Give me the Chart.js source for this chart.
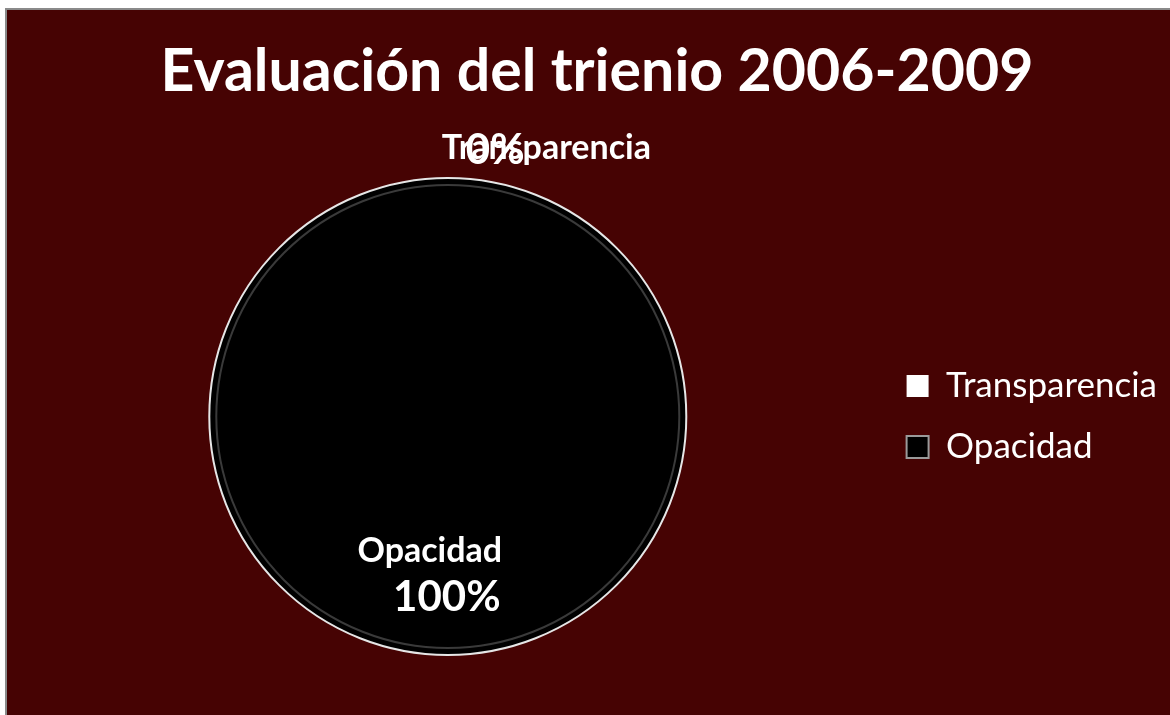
<!DOCTYPE html>
<html>
<head>
<meta charset="utf-8">
<script src="https://cdn.jsdelivr.net/npm/chart.js@4.4.1/dist/chart.umd.min.js"></script>
<style>
    html, body { margin: 0; padding: 0; background: #ffffff; }
    #box {
        position: absolute; left: 5px; top: 8px; width: 1165px; height: 707px;
        background: #460303; border-left: 2px solid #8a8a8a; border-top: 2px solid #8a8a8a;
        box-sizing: border-box;
    }
    #titulo {
        position: absolute; left: 0; top: 24px; width: 1180px; text-align: center;
        font-family: Lato, "Open Sans", sans-serif; font-weight: bold; font-size: 59px;
        color: #ffffff; margin: 0; line-height: 70px;
    }
    #wrap { position: absolute; left: 0; top: 0; width: 1163px; height: 705px; }
</style>
</head>
<body>
<div id="box">
    <div id="wrap"><canvas id="myChartTrienio"></canvas></div>
    <h1 id="titulo">Evaluación del trienio 2006-2009</h1>
</div>
<script>
var categorias = ['Transparencia', 'Opacidad'];
var valores = [0, 100];
var colores = ['#ffffff', '#000000'];

// etiquetas de datos (nombre + porcentaje)
var etiquetasPlugin = {
    id: 'etiquetas',
    afterDatasetsDraw: function (chart) {
        var ctx = chart.ctx;
        var meta = chart.getDatasetMeta(0);
        var data = chart.data.datasets[0].data;
        var total = data.reduce(function (a, b) { return a + b; }, 0);
        ctx.save();
        // anillo del borde
        var a0 = meta.data[0];
        ctx.beginPath();
        ctx.arc(a0.x, a0.y, a0.outerRadius - 7, 0, Math.PI * 2);
        ctx.strokeStyle = '#3a3a3a';
        ctx.lineWidth = 2;
        ctx.stroke();
        ctx.beginPath();
        ctx.arc(a0.x, a0.y, a0.outerRadius, 0, Math.PI * 2);
        ctx.strokeStyle = '#e6e6e6';
        ctx.lineWidth = 2;
        ctx.stroke();

        ctx.fillStyle = '#ffffff';
        ctx.textBaseline = 'middle';
        meta.data.forEach(function (arc, i) {
            var p = arc.getProps(['x', 'y', 'startAngle', 'endAngle', 'outerRadius'], true);
            var mid = (p.startAngle + p.endAngle) / 2;
            var pct = Math.round(data[i] / total * 100) + '%';
            if (data[i] / total < 0.05) {
                var ox = p.x + Math.cos(mid) * (p.outerRadius + 30);
                var oy = p.y + Math.sin(mid) * (p.outerRadius + 30);
                ctx.textAlign = 'left';
                ctx.font = 'bold 34px Lato';
                ctx.fillText(chart.data.labels[i], ox - 6, oy);
                ctx.font = 'bold 42px Lato';
                ctx.fillText(pct, ox + 18, oy + 2);
            } else {
                var ix = p.x + Math.cos(mid) * p.outerRadius * 0.66;
                var iy = p.y + Math.sin(mid) * p.outerRadius * 0.66;
                ctx.textAlign = 'center';
                ctx.font = 'bold 34px Lato';
                ctx.fillText(chart.data.labels[i], ix - 18, iy - 23);
                ctx.font = 'bold 42px Lato';
                ctx.fillText(pct, ix - 1, iy + 24);
            }
        });
        ctx.restore();
    }
};

var ctxTrienio = document.getElementById('myChartTrienio').getContext('2d');
var myChartTrienio = new Chart(ctxTrienio, {
    type: 'pie',
    data: {
        labels: categorias,
        datasets: [{
            data: valores,
            backgroundColor: colores,
            borderWidth: 0
        }]
    },
    options: {
        responsive: true,
        maintainAspectRatio: false,
        animation: false,
        layout: {
            padding: { top: 168, bottom: 60, left: 8, right: 3 }
        },
        plugins: {
            tooltip: { enabled: false },
            legend: {
                position: 'right',
                labels: {
                    color: '#ffffff',
                    boxWidth: 22,
                    boxHeight: 22,
                    padding: 26,
                    font: { family: 'Lato', size: 35 },
                    generateLabels: function (chart) {
                        var items = Chart.overrides.pie.plugins.legend.labels.generateLabels(chart);
                        items.forEach(function (it, i) {
                            it.lineWidth = i === 1 ? 2 : 0;
                            it.strokeStyle = '#9a9a9a';
                        });
                        return items;
                    }
                }
            }
        }
    },
    plugins: [etiquetasPlugin]
});
</script>
</body>
</html>
